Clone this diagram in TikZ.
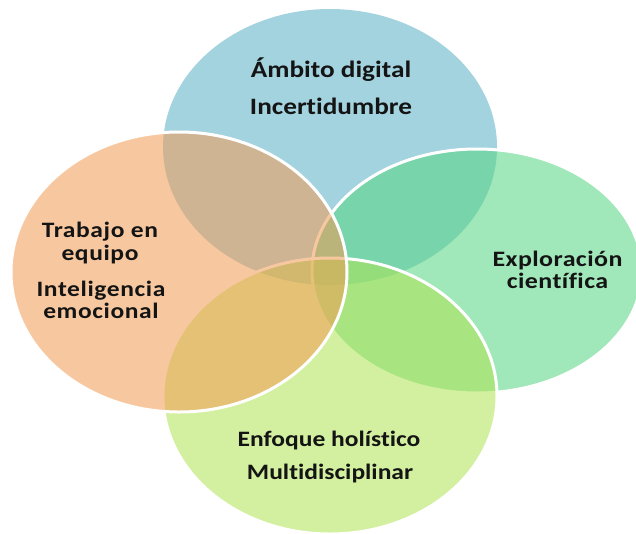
\documentclass[tikz,border=0pt]{standalone}
\usepackage{fontspec}
\newfontfamily\lbl{Carlito}[FakeStretch=1.16, Ligatures={NoCommon,NoContextual}]
\newfontfamily\lblL{Carlito}[FakeStretch=1.16, LetterSpace=2.8, Ligatures={NoCommon,NoContextual}]
\newfontfamily\lblR{Carlito}[FakeStretch=1.18, LetterSpace=2, Ligatures={NoCommon,NoContextual}]
\definecolor{cTop}{RGB}{91,175,199}
\definecolor{cRight}{RGB}{83,213,128}
\definecolor{cBottom}{RGB}{175,228,82}
\definecolor{cLeft}{RGB}{242,155,82}
\definecolor{txt}{RGB}{20,20,20}
\tikzset{
  venn/.style={fill opacity=0.55, draw opacity=1, line width=3pt},
  lab/.style={anchor=base, inner sep=0pt, text=txt, font=\lbl\bfseries\fontsize{22}{26}\selectfont},
  labbig/.style={lab, font=\lbl\bfseries\fontsize{23.5}{28}\selectfont},
  labL/.style={lab, font=\lblL\bfseries\fontsize{22}{26}\selectfont},
  labR/.style={lab, font=\lblR\bfseries\fontsize{22}{26}\selectfont}
}
\begin{document}
\begin{tikzpicture}[x=1pt,y=-1pt]
\useasboundingbox (0,0) rectangle (636,533);
\fill[white] (0,0) rectangle (636,533);
\begin{scope}
\clip (0,0) rectangle (636,533);
\path[venn, fill=cTop] (330,147) ellipse [x radius=167pt, y radius=138pt];
\path[venn, fill=cRight, draw=white] (477,271) ellipse [x radius=165pt, y radius=122pt];
\path[venn, fill=cBottom, draw=white] (330,396) ellipse [x radius=167pt, y radius=138pt];
\path[venn, fill=cLeft, draw=white] (179,272) ellipse [x radius=168pt, y radius=140pt];
\end{scope}
\node[labbig] (t1) at (331,77.5) {Ámbito digital};
\node[labbig] (t2) at (331,114) {Incertidumbre};
\node[labL] (l1) at (100,237) {Trabajo en};
\node[labL] (l2) at (100,260) {equipo};
\node[labL] (l3) at (101,296) {Inteligencia};
\node[labL] (l4) at (101,318) {emocional};
\node[labR] (r1) at (557.5,266.7) {Exploración};
\node[labR] (r2) at (557.5,288) {científica};
\node[lab] (b1) at (329,446) {Enfoque holístico};
\node[lab] (b2) at (330,479.3) {Multidisciplinar};
\end{tikzpicture}
\end{document}
